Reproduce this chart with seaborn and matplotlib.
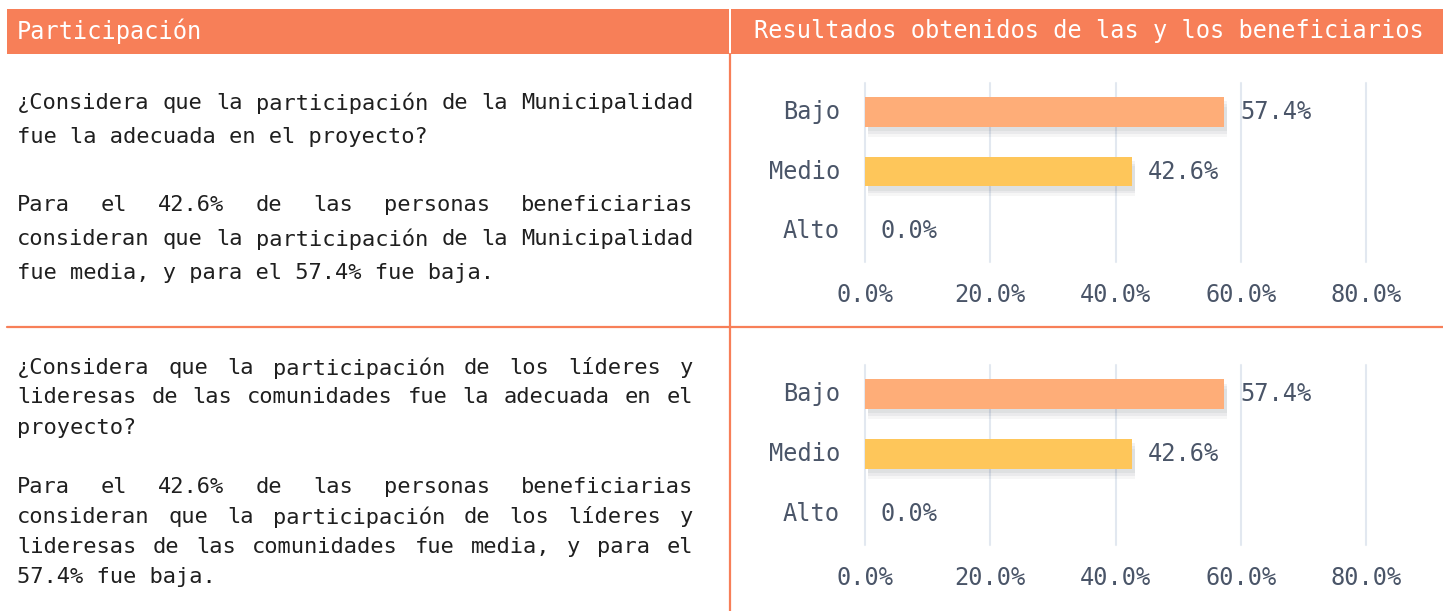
import matplotlib
matplotlib.use("Agg")
import matplotlib.pyplot as plt
import seaborn as sns
import pandas as pd
from matplotlib.patches import Rectangle
from matplotlib.lines import Line2D
from matplotlib import patheffects as pe

# ---------------- data ----------------
categories = ["Bajo", "Medio", "Alto"]
muni_values = [57.4, 42.6, 0.0]
lideres_values = [57.4, 42.6, 0.0]
x_ticks = [0, 20, 40, 60, 80]
x_tick_labels = ["0.0%", "20.0%", "40.0%", "60.0%", "80.0%"]
bar_colors = ["#FEAD78", "#FEC65A", "#FEC65A"]

header_left = "Participación"
header_right = "Resultados obtenidos de las y los beneficiarios"

# (text, justified)
panel1_lines = [
    ("¿Considera que la participación de la Municipalidad", True),
    ("fue la adecuada en el proyecto?", False),
    ("Para el 42.6% de las personas beneficiarias", True),
    ("consideran que la participación de la Municipalidad", True),
    ("fue media, y para el 57.4% fue baja.", False),
]
panel2_lines = [
    ("¿Considera que la participación de los líderes y", True),
    ("lideresas de las comunidades fue la adecuada en el", True),
    ("proyecto?", False),
    ("Para el 42.6% de las personas beneficiarias", True),
    ("consideran que la participación de los líderes y", True),
    ("lideresas de las comunidades fue media, y para el", True),
    ("57.4% fue baja.", False),
]

# ---------------- style ----------------
W, H, DPI = 1443, 611, 100
ORANGE = "#F77F58"
SLATE = "#4A5568"
GRID = "#E2E8F0"
TXT = "#1F1F1F"

sns.set_theme(style="white")
plt.rcParams["font.family"] = ["DejaVu Sans Mono", "DejaVu Sans"]

fig = plt.figure(figsize=(W / DPI, H / DPI), dpi=DPI)
fig.patch.set_facecolor("white")


def fx(px):
    return px / W


def fy(py):
    return 1 - py / H


# header bars
fig.patches.append(Rectangle((fx(7), fy(54)), fx(729) - fx(7), fy(9) - fy(54),
                             transform=fig.transFigure, facecolor=ORANGE,
                             edgecolor="none", zorder=0))
fig.patches.append(Rectangle((fx(731), fy(54)), fx(1443) - fx(731), fy(9) - fy(54),
                             transform=fig.transFigure, facecolor=ORANGE,
                             edgecolor="none", zorder=0))
fig.text(fx(17), fy(31), header_left, color="white", fontsize=17,
         ha="left", va="center")
fig.text(fx(754), fy(31), header_right, color="white", fontsize=17,
         ha="left", va="center")

# dividers
fig.lines.append(Line2D([fx(730), fx(730)], [fy(54), fy(611)],
                        transform=fig.transFigure, color=ORANGE, lw=1.6))
fig.lines.append(Line2D([fx(7), fx(1443)], [fy(327), fy(327)],
                        transform=fig.transFigure, color=ORANGE, lw=1.6))

# paragraphs
FS = 15.85
CHAR_W = FS * DPI / 72 * 0.602
LEFT, RIGHT = 17, 693


def draw_line(text, y, justify):
    if not justify:
        fig.text(fx(LEFT), fy(y), text, fontsize=FS, color=TXT,
                 ha="left", va="center")
        return
    words = text.split(" ")
    total = sum(len(w) for w in words) * CHAR_W
    gap = (RIGHT - LEFT - total) / (len(words) - 1)
    x = LEFT
    for w in words:
        fig.text(fx(x), fy(y), w, fontsize=FS, color=TXT, ha="left", va="center")
        x += len(w) * CHAR_W + gap


for (t, j), y in zip(panel1_lines, [103, 137, 205, 239, 273]):
    draw_line(t, y, j)
for (t, j), y in zip(panel2_lines, [368, 397, 428, 487, 517, 547, 577]):
    draw_line(t, y, j)


# charts
def make_chart(rect, values):
    ax = fig.add_axes(rect)
    df = pd.DataFrame({"category": categories, "value": values})
    sns.barplot(data=df, x="value", y="category", hue="category",
                palette=bar_colors, orient="h", width=0.5, legend=False,
                ax=ax, saturation=1, linewidth=0)
    for p in ax.patches:
        p.set_linewidth(0)
        if p.get_width() > 0:
            p.set_path_effects([
                pe.SimplePatchShadow(offset=(2, -3), shadow_rgbFace="#1a202c", alpha=0.05),
                pe.SimplePatchShadow(offset=(2, -5), shadow_rgbFace="#1a202c", alpha=0.05),
                pe.SimplePatchShadow(offset=(2, -7), shadow_rgbFace="#1a202c", alpha=0.04),
                pe.Normal(),
            ])
    ax.set_xlim(0, 80)
    ax.set_ylim(2.52, -0.49)
    ax.set_xticks(x_ticks)
    ax.set_xticklabels(x_tick_labels)
    ax.grid(axis="x", color=GRID, lw=1.5)
    ax.grid(axis="y", visible=False)
    ax.set_axisbelow(True)
    for l in ax.get_xgridlines():
        l.set_clip_on(False)
    for s in ax.spines.values():
        s.set_visible(False)
    ax.set_xlabel("")
    ax.set_ylabel("")
    ax.tick_params(axis="x", length=0, pad=15, labelsize=17, labelcolor=SLATE)
    ax.tick_params(axis="y", length=0, pad=18, labelsize=17, labelcolor=SLATE)
    for lab in ax.get_yticklabels():
        lab.set_verticalalignment("center")
    for i, v in enumerate(values):
        ax.text(v + 2.5, i, f"{v:.1f}%", va="center", ha="left",
                fontsize=17, color=SLATE)
    ax.set_facecolor("none")
    return ax


x0, x1 = fx(865), fx(1366)
make_chart([x0, fy(262), x1 - x0, fy(83) - fy(262)], muni_values)
make_chart([x0, fy(545), x1 - x0, fy(365) - fy(545)], lideres_values)

fig.savefig("out.png", dpi=DPI, facecolor="white")
